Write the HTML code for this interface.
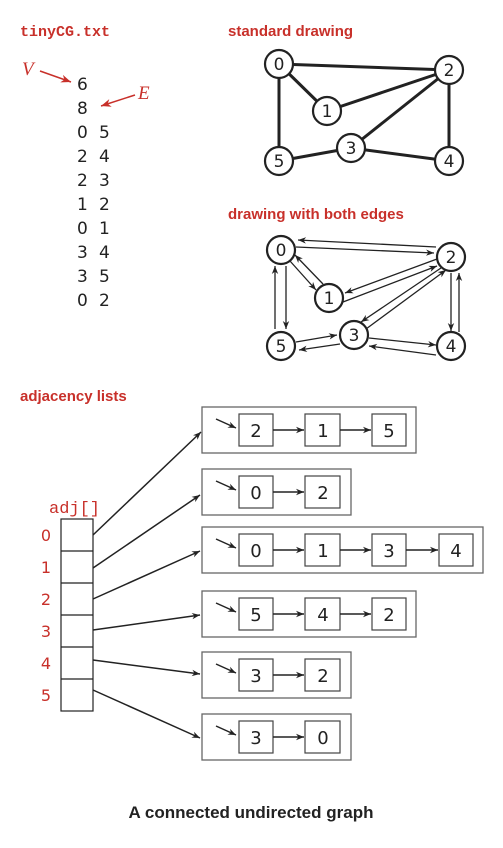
<!DOCTYPE html><html><head><style>body{margin:0;background:#fff}svg{display:block}</style></head><body>
<svg width="503" height="848" viewBox="0 0 503 848" xmlns="http://www.w3.org/2000/svg">
<defs>
<marker id="a" viewBox="0 0 10 10" refX="10" refY="5" markerWidth="8" markerHeight="8" orient="auto" markerUnits="userSpaceOnUse"><path d="M0,1 L10,5 L0,9 L3,5z" fill="#222"/></marker>
<marker id="r" viewBox="0 0 10 10" refX="10" refY="5" markerWidth="10" markerHeight="10" orient="auto" markerUnits="userSpaceOnUse"><path d="M0,1 L10,5 L0,9 L3,5z" fill="#c8302a"/></marker>
</defs>
<g font-family="Liberation Sans, sans-serif" font-weight="bold" fill="#c8302a" font-size="15">
<text x="20" y="36" font-family="Liberation Mono, monospace" font-size="15">tinyCG.txt</text>
<text x="228" y="36">standard drawing</text>
<text x="228" y="219">drawing with both edges</text>
<text x="20" y="401">adjacency lists</text>
</g>
<g font-family="Liberation Serif, serif" font-style="italic" fill="#c8302a" font-size="19">
<text x="22" y="75">V</text><text x="138" y="99">E</text>
</g>
<line x1="40" y1="71" x2="71" y2="82" stroke="#c8302a" stroke-width="1.5" marker-end="url(#r)"/>
<line x1="135" y1="95" x2="101" y2="106" stroke="#c8302a" stroke-width="1.5" marker-end="url(#r)"/>
<g font-family="DejaVu Sans, sans-serif" font-size="17" fill="#222">
<text x="77" y="90">6</text><text x="77" y="114">8</text>
<text x="77" y="138">0</text><text x="99" y="138">5</text>
<text x="77" y="162">2</text><text x="99" y="162">4</text>
<text x="77" y="186">2</text><text x="99" y="186">3</text>
<text x="77" y="210">1</text><text x="99" y="210">2</text>
<text x="77" y="234">0</text><text x="99" y="234">1</text>
<text x="77" y="258">3</text><text x="99" y="258">4</text>
<text x="77" y="282">3</text><text x="99" y="282">5</text>
<text x="77" y="306">0</text><text x="99" y="306">2</text>
</g>
<g stroke="#222" stroke-width="3">
<line x1="279" y1="64" x2="449" y2="70"/><line x1="279" y1="64" x2="327" y2="111"/><line x1="279" y1="64" x2="279" y2="161"/>
<line x1="327" y1="111" x2="449" y2="70"/><line x1="351" y1="148" x2="449" y2="70"/><line x1="449" y1="70" x2="449" y2="161"/>
<line x1="279" y1="161" x2="351" y2="148"/><line x1="351" y1="148" x2="449" y2="161"/>
</g>
<g stroke="#222" stroke-width="1.3" marker-end="url(#a)">
<line x1="296" y1="247" x2="434" y2="253"/><line x1="436" y1="247" x2="298" y2="240"/>
<line x1="290" y1="261" x2="316" y2="290"/><line x1="323" y1="284" x2="295" y2="255"/>
<line x1="286" y1="266" x2="286" y2="329"/><line x1="275" y1="329" x2="275" y2="266"/>
<line x1="437" y1="259" x2="345" y2="293"/><line x1="343" y1="302" x2="437" y2="266"/>
<line x1="441" y1="268" x2="361" y2="322"/><line x1="366" y1="329" x2="446" y2="270"/>
<line x1="451" y1="273" x2="451" y2="331"/><line x1="459" y1="332" x2="459" y2="273"/>
<line x1="296" y1="342" x2="337" y2="335"/><line x1="340" y1="344" x2="299" y2="350"/>
<line x1="369" y1="338" x2="436" y2="345"/><line x1="436" y1="355" x2="369" y2="346"/>
</g>
<g fill="#fff" stroke="#222" stroke-width="2.2">
<circle cx="279" cy="64" r="14"/><circle cx="449" cy="70" r="14"/><circle cx="327" cy="111" r="14"/><circle cx="351" cy="148" r="14"/><circle cx="279" cy="161" r="14"/><circle cx="449" cy="161" r="14"/>
<circle cx="281" cy="250" r="14"/><circle cx="451" cy="257" r="14"/><circle cx="329" cy="298" r="14"/><circle cx="354" cy="335" r="14"/><circle cx="281" cy="346" r="14"/><circle cx="451" cy="346" r="14"/>
</g>
<g font-family="DejaVu Sans, sans-serif" font-size="17" fill="#222" text-anchor="middle">
<text x="279" y="70">0</text><text x="449" y="76">2</text><text x="327" y="117">1</text><text x="351" y="154">3</text><text x="279" y="167">5</text><text x="449" y="167">4</text>
<text x="281" y="256">0</text><text x="451" y="263">2</text><text x="329" y="304">1</text><text x="354" y="341">3</text><text x="281" y="352">5</text><text x="451" y="352">4</text>
</g>
<text x="49" y="513" font-family="Liberation Mono, monospace" font-size="17" fill="#c8302a">adj[]</text>
<g font-family="DejaVu Sans, sans-serif" font-size="16" fill="#c8302a" text-anchor="middle">
<text x="46" y="541">0</text><text x="46" y="573">1</text><text x="46" y="605">2</text><text x="46" y="637">3</text><text x="46" y="669">4</text><text x="46" y="701">5</text>
</g>
<g fill="none" stroke="#222" stroke-width="1.2">
<rect x="61" y="519" width="32" height="192"/>
<line x1="61" y1="551" x2="93" y2="551"/><line x1="61" y1="583" x2="93" y2="583"/><line x1="61" y1="615" x2="93" y2="615"/><line x1="61" y1="647" x2="93" y2="647"/><line x1="61" y1="679" x2="93" y2="679"/>
</g>
<g stroke="#222" stroke-width="1.5" marker-end="url(#a)">
<line x1="93" y1="535" x2="201" y2="432"/><line x1="93" y1="568" x2="200" y2="495"/><line x1="93" y1="599" x2="200" y2="551"/><line x1="93" y1="630" x2="200" y2="615"/><line x1="93" y1="660" x2="200" y2="674"/><line x1="93" y1="690" x2="200" y2="738"/>
</g>
<g fill="none" stroke="#666" stroke-width="1.3">
<rect x="202" y="407" width="214" height="46"/><rect x="202" y="469" width="149" height="46"/><rect x="202" y="527" width="281" height="46"/><rect x="202" y="591" width="214" height="46"/><rect x="202" y="652" width="149" height="46"/><rect x="202" y="714" width="149" height="46"/>
</g>
<g fill="none" stroke="#444" stroke-width="1.2">
<rect x="239" y="414" width="34" height="32"/><rect x="305" y="414" width="35" height="32"/><rect x="372" y="414" width="34" height="32"/>
<rect x="239" y="476" width="34" height="32"/><rect x="305" y="476" width="35" height="32"/>
<rect x="239" y="534" width="34" height="32"/><rect x="305" y="534" width="35" height="32"/><rect x="372" y="534" width="34" height="32"/><rect x="439" y="534" width="34" height="32"/>
<rect x="239" y="598" width="34" height="32"/><rect x="305" y="598" width="35" height="32"/><rect x="372" y="598" width="34" height="32"/>
<rect x="239" y="659" width="34" height="32"/><rect x="305" y="659" width="35" height="32"/>
<rect x="239" y="721" width="34" height="32"/><rect x="305" y="721" width="35" height="32"/>
</g>
<g stroke="#222" stroke-width="1.5" marker-end="url(#a)">
<line x1="216" y1="419" x2="236" y2="428"/><line x1="273" y1="430" x2="304" y2="430"/><line x1="340" y1="430" x2="371" y2="430"/>
<line x1="216" y1="481" x2="236" y2="490"/><line x1="273" y1="492" x2="304" y2="492"/>
<line x1="216" y1="539" x2="236" y2="548"/><line x1="273" y1="550" x2="304" y2="550"/><line x1="340" y1="550" x2="371" y2="550"/><line x1="406" y1="550" x2="438" y2="550"/>
<line x1="216" y1="603" x2="236" y2="612"/><line x1="273" y1="614" x2="304" y2="614"/><line x1="340" y1="614" x2="371" y2="614"/>
<line x1="216" y1="664" x2="236" y2="673"/><line x1="273" y1="675" x2="304" y2="675"/>
<line x1="216" y1="726" x2="236" y2="735"/><line x1="273" y1="737" x2="304" y2="737"/>
</g>
<g font-family="DejaVu Sans, sans-serif" font-size="18" fill="#222" text-anchor="middle">
<text x="256" y="437">2</text><text x="323" y="437">1</text><text x="389" y="437">5</text>
<text x="256" y="499">0</text><text x="323" y="499">2</text>
<text x="256" y="557">0</text><text x="323" y="557">1</text><text x="389" y="557">3</text><text x="456" y="557">4</text>
<text x="256" y="621">5</text><text x="323" y="621">4</text><text x="389" y="621">2</text>
<text x="256" y="682">3</text><text x="323" y="682">2</text>
<text x="256" y="744">3</text><text x="323" y="744">0</text>
</g>
<text x="251" y="818" text-anchor="middle" font-family="Liberation Sans, sans-serif" font-weight="bold" font-size="17" fill="#222">A connected undirected graph</text>
</svg>
</body></html>
